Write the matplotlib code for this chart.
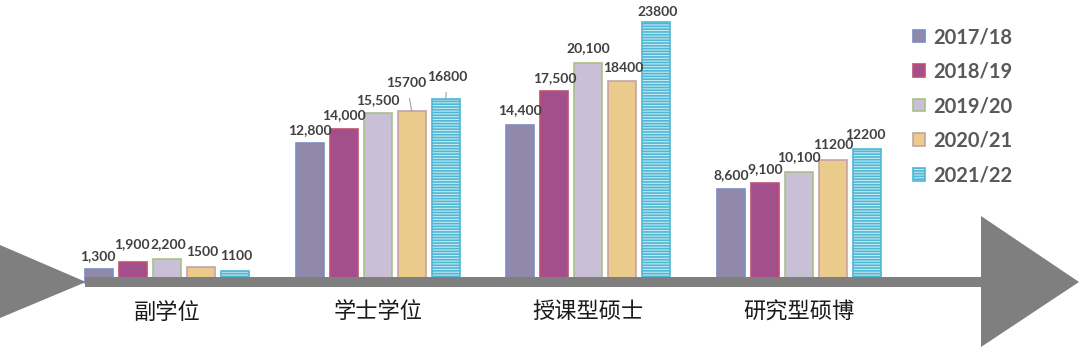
import matplotlib
matplotlib.use("Agg")
import matplotlib.pyplot as plt
from matplotlib.patches import Polygon, Rectangle

# ---------------- data ----------------
categories = ["副学位", "学士学位", "授课型硕士", "研究型硕博"]
series_names = ["2017/18", "2018/19", "2019/20", "2020/21", "2021/22"]
v_2017 = [1300, 12800, 14400, 8600]
v_2018 = [1900, 14000, 17500, 9100]
v_2019 = [2200, 15500, 20100, 10100]
v_2020 = [1500, 15700, 18400, 11200]
v_2021 = [1100, 16800, 23800, 12200]
values = [v_2017, v_2018, v_2019, v_2020, v_2021]
use_comma = [True, True, True, False, False]

# ---------------- styles ----------------
face_colors = ["#9189aa", "#a34f8b", "#c9bfd6", "#eacb8b", "#c4e9f2"]
edge_colors = ["#7b8cc6", "#c05070", "#a9c184", "#c4a3aa", "#4fb7d4"]
hatches = [None, None, None, None, "------"]

# label offsets (points) relative to bar top: (dx, dy)
px = 0.72
label_offsets = [
    [(-1, 13), (0, 13), (0, 15), (0, 14)],
    [(-1, 18), (0, 14), (0, 13), (0, 14)],
    [(1, 15), (0, 13), (0, 14), (0, 15)],
    [(1, 15), (-5, 28), (1, 13), (0, 15)],
    [(1, 15), (2, 22), (1, 10), (-2, 14)],
]
leader = [[False] * 4, [False] * 4, [False] * 4,
          [False, True, False, False], [False, True, False, False]]

W, H = 1080, 348
fig = plt.figure(figsize=(W / 100, H / 100), dpi=100)
ax = fig.add_axes([0, 0, 1, 1])
ax.set_axis_off()

scale = 0.01097      # px per unit
base_px = 283        # baseline pixel from top
grp_px0, grp_dx, bar_dx, bar_w = 167, 210.7, 34, 28
ax.set_ylim(-(H - base_px) / scale, base_px / scale)
ax.set_xlim(-grp_px0 / grp_dx, (W - grp_px0) / grp_dx)

off = bar_dx / grp_dx
width = bar_w / grp_dx
x0 = list(range(len(categories)))

plt.rcParams["hatch.linewidth"] = 1.2
containers = []
for j, (name, vals) in enumerate(zip(series_names, values)):
    xs = [x + (j - 2) * off for x in x0]
    bc = ax.bar(xs, vals, width=width, color=face_colors[j],
                edgecolor=edge_colors[j], linewidth=1.2,
                hatch=hatches[j], label=name, zorder=2)
    containers.append(bc)
    for i, (x, v) in enumerate(zip(xs, vals)):
        txt = f"{v:,}" if use_comma[j] else f"{v}"
        dx, dy = label_offsets[j][i]
        kw = {}
        if leader[j][i]:
            kw["arrowprops"] = dict(arrowstyle="-", color="#a0a0a0", lw=0.8,
                                    shrinkA=5, shrinkB=0)
        ax.annotate(txt, xy=(x, v), xytext=(dx * px, dy * px),
                    textcoords="offset points", ha="center", va="center",
                    fontsize=10, fontweight="bold", family="Lato",
                    color="#404040", zorder=4, **kw)

# ---------------- arrow decoration (pixel -> axes fraction) ----------------
def fr(p):
    return (p[0] / W, 1 - p[1] / H)

ax.add_patch(Rectangle(fr((85, 287)), (981 - 85) / W, 10 / H,
                       transform=ax.transAxes, color="#7f7f7f", zorder=3, lw=0))
ax.add_patch(Polygon([fr((0, 245)), fr((86, 282)), fr((0, 318))],
                     transform=ax.transAxes, color="#7f7f7f", zorder=3, lw=0))
ax.add_patch(Polygon([fr((981, 216)), fr((1079, 282)), fr((981, 347))],
                     transform=ax.transAxes, color="#7f7f7f", zorder=3, lw=0))

# category labels
for x, c in zip(x0, categories):
    ax.text(x, (base_px - 312) / scale, c, ha="center", va="center",
            fontsize=16, family=["Noto Sans CJK SC", "DejaVu Sans"],
            color="#1a1a1a")

leg = ax.legend(handles=containers, loc="upper left",
                bbox_to_anchor=(913 / W, 1 - 27 / H),
                frameon=False, prop={"family": "Lato", "weight": "bold", "size": 14.5},
                labelcolor="#595959", handlelength=0.6, handleheight=0.6,
                handletextpad=0.4, labelspacing=0.725, borderpad=0,
                borderaxespad=0)

fig.savefig("out.png", dpi=100)
